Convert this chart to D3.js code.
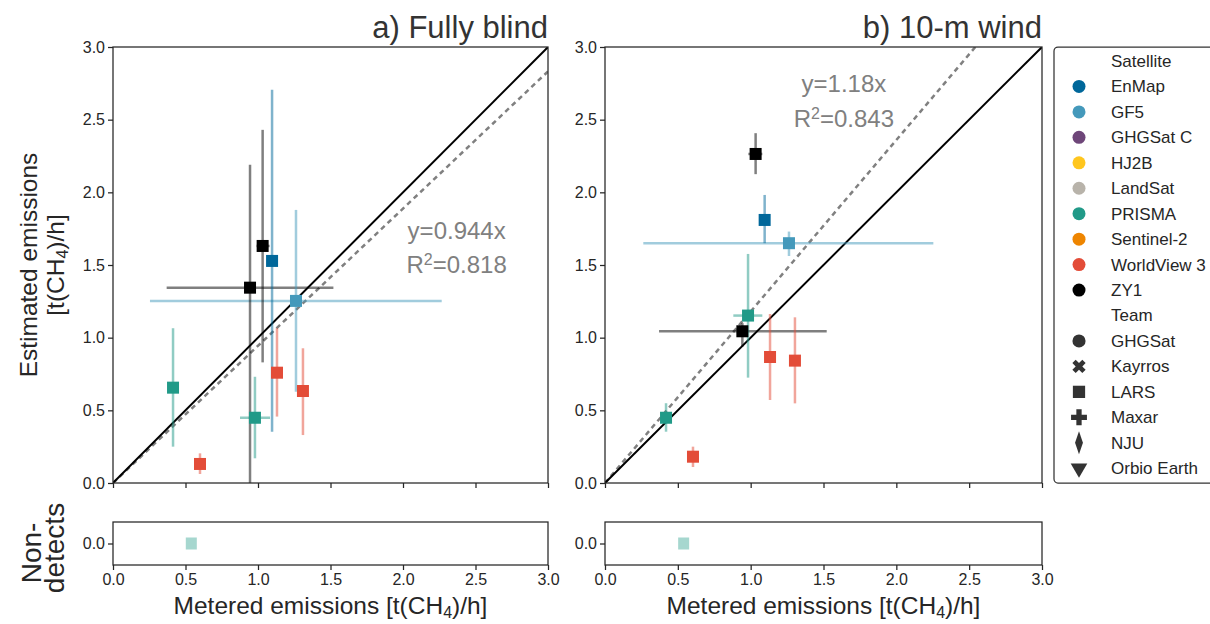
<!DOCTYPE html>
<html>
<head>
    <meta charset="utf-8">
    <script src="https://d3js.org/d3.v7.min.js"></script>
    <style>
        body { margin: 0; background: #fff; }
        text { font-family: "Liberation Sans", Arial, sans-serif; fill: #262626; }
    </style>
</head>
<body>
    <svg width="1210" height="624"></svg>
    <script>
        // Legend entries
        const satellites = ["EnMap", "GF5", "GHGSat C", "HJ2B", "LandSat", "PRISMA", "Sentinel-2", "WorldView 3", "ZY1"];
        const satColors = ["#00679a", "#4499bb", "#6e4679", "#ffc61e", "#b8b3aa", "#219a88", "#ee8500", "#e34c38", "#000000"];
        const teams = ["GHGSat", "Kayrros", "LARS", "Maxar", "NJU", "Orbio Earth"];

        // a) Fully blind
        const satA = ["ZY1", "ZY1", "EnMap", "GF5", "PRISMA", "PRISMA", "WorldView 3", "WorldView 3", "WorldView 3"];
        const meteredA = [0.945, 1.032, 1.097, 1.262, 0.414, 0.979, 0.600, 1.131, 1.310];
        const meteredLoA = [0.37, 0.99, 1.097, 0.255, 0.414, 0.876, 0.600, 1.131, 1.310];
        const meteredHiA = [1.52, 1.08, 1.097, 2.267, 0.414, 1.083, 0.600, 1.131, 1.310];
        const estimatedA = [1.344, 1.631, 1.528, 1.253, 0.656, 0.449, 0.131, 0.759, 0.633];
        const estLoA = [0.0, 0.83, 0.353, 0.628, 0.25, 0.17, 0.062, 0.457, 0.33];
        const estHiA = [2.19, 2.43, 2.705, 1.879, 1.065, 0.731, 0.204, 1.065, 0.927];

        // b) 10-m wind
        const satB = ["ZY1", "EnMap", "GF5", "PRISMA", "ZY1", "PRISMA", "WorldView 3", "WorldView 3", "WorldView 3"];
        const meteredB = [1.034, 1.096, 1.263, 0.982, 0.943, 0.419, 0.604, 1.133, 1.304];
        const meteredLoB = [0.984, 1.096, 0.263, 0.881, 0.371, 0.38, 0.604, 1.133, 1.304];
        const meteredHiB = [1.08, 1.096, 2.254, 1.08, 1.522, 0.46, 0.604, 1.133, 1.304];
        const estimatedB = [2.264, 1.81, 1.65, 1.152, 1.044, 0.449, 0.181, 0.867, 0.842];
        const estLoB = [2.125, 1.65, 1.562, 0.725, 0.938, 0.353, 0.11, 0.571, 0.548];
        const estHiB = [2.407, 1.982, 1.73, 1.576, 1.10, 0.549, 0.25, 1.163, 1.14];

        // non-detects (metered value, satellite)
        const nonDetectX = [0.54];
        const nonDetectSat = ["PRISMA"];

        const slopes = [0.944, 1.18];
        const r2 = ["0.818", "0.843"];
        const titles = ["a) Fully blind", "b) 10-m wind"];
        const ticks = [0, 0.5, 1.0, 1.5, 2.0, 2.5, 3.0];

        const color = d3.scaleOrdinal().domain(satellites).range(satColors);
        const svg = d3.select("svg");

        const panels = [
            { left: 113, right: 548, sat: satA, x: meteredA, xlo: meteredLoA, xhi: meteredHiA, y: estimatedA, ylo: estLoA, yhi: estHiA, ann: [2.37, 1.68] },
            { left: 605, right: 1042, sat: satB, x: meteredB, xlo: meteredLoB, xhi: meteredHiB, y: estimatedB, ylo: estLoB, yhi: estHiB, ann: [1.64, 2.69] }
        ];
        const plotTop = 47, plotBottom = 483, ndTop = 522, ndBottom = 565;

        panels.forEach((p, i) => {
            const x = d3.scaleLinear().domain([0, 3]).range([p.left, p.right]);
            const y = d3.scaleLinear().domain([0, 3]).range([plotBottom, plotTop]);
            const yNd = d3.scaleLinear().domain([-1, 1]).range([ndBottom, ndTop]);
            const g = svg.append("g");

            const clipId = "clip" + i;
            svg.append("clipPath").attr("id", clipId)
                .append("rect").attr("x", p.left).attr("y", plotTop)
                .attr("width", p.right - p.left).attr("height", plotBottom - plotTop);

            const plot = g.append("g").attr("clip-path", `url(#${clipId})`);

            // identity + regression
            plot.append("line")
                .attr("x1", x(0)).attr("y1", y(0)).attr("x2", x(3)).attr("y2", y(3 * slopes[i]))
                .attr("stroke", "#808080").attr("stroke-width", 2.5).attr("stroke-dasharray", "5,4");
            plot.append("line")
                .attr("x1", x(0)).attr("y1", y(0)).attr("x2", x(3)).attr("y2", y(3))
                .attr("stroke", "#000").attr("stroke-width", 2);

            const idx = d3.range(p.x.length);
            // error bars
            plot.selectAll("line.xerr").data(idx).enter().append("line")
                .attr("x1", d => x(p.xlo[d])).attr("x2", d => x(p.xhi[d]))
                .attr("y1", d => y(p.y[d])).attr("y2", d => y(p.y[d]))
                .attr("stroke", d => color(p.sat[d])).attr("stroke-opacity", 0.5).attr("stroke-width", 2.5);
            plot.selectAll("line.yerr").data(idx).enter().append("line")
                .attr("x1", d => x(p.x[d])).attr("x2", d => x(p.x[d]))
                .attr("y1", d => y(p.ylo[d])).attr("y2", d => y(p.yhi[d]))
                .attr("stroke", d => color(p.sat[d])).attr("stroke-opacity", 0.5).attr("stroke-width", 2.5);

            // markers (LARS = squares)
            const s = 12;
            plot.selectAll("rect.pt").data(idx).enter().append("rect")
                .attr("x", d => x(p.x[d]) - s / 2).attr("y", d => y(p.y[d]) - s / 2)
                .attr("width", s).attr("height", s)
                .attr("fill", d => color(p.sat[d]));

            // regression annotation
            g.append("text").attr("x", x(p.ann[0])).attr("y", y(p.ann[1]))
                .attr("text-anchor", "middle").attr("font-size", 24).style("fill", "#808080")
                .text(`y=${slopes[i]}x`);
            const rt = g.append("text").attr("x", x(p.ann[0])).attr("y", y(p.ann[1]) + 34.5)
                .attr("text-anchor", "middle").attr("font-size", 24).style("fill", "#808080");
            rt.append("tspan").text("R");
            rt.append("tspan").attr("baseline-shift", "super").attr("font-size", 16).text("2");
            rt.append("tspan").text("=" + r2[i]);

            // frame + axes
            g.append("rect").attr("x", p.left).attr("y", plotTop).attr("width", p.right - p.left).attr("height", plotBottom - plotTop)
                .attr("fill", "none").attr("stroke", "#262626").attr("stroke-width", 1.25);
            const yAxis = g.append("g").attr("transform", `translate(${p.left},0)`)
                .call(d3.axisLeft(y).tickValues(ticks).tickFormat(d3.format(".1f")).tickSize(5).tickPadding(3));
            const xAxis = g.append("g").attr("transform", `translate(0,${plotBottom})`)
                .call(d3.axisBottom(x).tickValues(ticks).tickFormat("").tickSize(5));
            [yAxis, xAxis].forEach(a => {
                a.select(".domain").remove();
                a.selectAll("line").attr("stroke", "#262626").attr("stroke-width", 1.25);
                a.selectAll("text").attr("font-size", 16).style("fill", "#262626");
            });

            // title
            g.append("text").attr("x", p.right).attr("y", 38).attr("text-anchor", "end")
                .attr("font-size", 31).style("fill", "#333").text(titles[i]);

            // non-detects panel
            const nd = svg.append("g");
            nd.selectAll("rect.nd").data(nonDetectX).enter().append("rect")
                .attr("x", d => x(d) - 5.5).attr("y", yNd(0) - 6).attr("width", 11).attr("height", 12)
                .attr("fill", (d, j) => color(nonDetectSat[j])).attr("fill-opacity", 0.4);
            nd.append("rect").attr("x", p.left).attr("y", ndTop).attr("width", p.right - p.left).attr("height", ndBottom - ndTop)
                .attr("fill", "none").attr("stroke", "#262626").attr("stroke-width", 1.25);
            const ndY = nd.append("g").attr("transform", `translate(${p.left},0)`)
                .call(d3.axisLeft(yNd).tickValues([0]).tickFormat(d3.format(".1f")).tickSize(5).tickPadding(3));
            const ndX = nd.append("g").attr("transform", `translate(0,${ndBottom})`)
                .call(d3.axisBottom(x).tickValues(ticks).tickFormat(d3.format(".1f")).tickSize(5).tickPadding(4));
            [ndY, ndX].forEach(a => {
                a.select(".domain").remove();
                a.selectAll("line").attr("stroke", "#262626").attr("stroke-width", 1.25);
                a.selectAll("text").attr("font-size", 16).style("fill", "#262626");
            });

            // x label
            const xl = svg.append("text").attr("x", (p.left + p.right) / 2).attr("y", 614)
                .attr("text-anchor", "middle").attr("font-size", 24.5);
            xl.append("tspan").text("Metered emissions [t(CH");
            xl.append("tspan").attr("dy", 4).attr("font-size", 16).text("4");
            xl.append("tspan").attr("dy", -4).text(")/h]");
        });

        // y labels
        const yl = svg.append("text").attr("transform", "translate(37,265) rotate(-90)")
            .attr("text-anchor", "middle").attr("font-size", 24.5);
        yl.append("tspan").attr("x", 0).attr("dy", 0).text("Estimated emissions");
        const yl2 = svg.append("text").attr("transform", "translate(64,265) rotate(-90)")
            .attr("text-anchor", "middle").attr("font-size", 24.5);
        yl2.append("tspan").text("[t(CH");
        yl2.append("tspan").attr("dy", 4).attr("font-size", 16).text("4");
        yl2.append("tspan").attr("dy", -4).text(")/h]");

        svg.append("text").attr("transform", "translate(41,553) rotate(-90)")
            .attr("text-anchor", "middle").attr("font-size", 28).text("Non-");
        svg.append("text").attr("transform", "translate(64,548) rotate(-90)")
            .attr("text-anchor", "middle").attr("font-size", 28).text("detects");

        // legend
        const lg = svg.append("g");
        lg.append("rect").attr("x", 1054).attr("y", 47).attr("width", 170).attr("height", 436).attr("rx", 4)
            .attr("fill", "#fff").attr("stroke", "#333").attr("stroke-width", 1.25);
        const rowY = i => 61 + i * 25.45;
        const mx = 1079, tx = 1111;
        lg.append("text").attr("x", tx).attr("y", rowY(0)).attr("dy", "0.35em").attr("font-size", 17).text("Satellite");
        satellites.forEach((s, i) => {
            lg.append("circle").attr("cx", mx).attr("cy", rowY(i + 1)).attr("r", 6.5).attr("fill", color(s));
            lg.append("text").attr("x", tx).attr("y", rowY(i + 1)).attr("dy", "0.35em").attr("font-size", 17).text(s);
        });
        lg.append("text").attr("x", tx).attr("y", rowY(10)).attr("dy", "0.35em").attr("font-size", 17).text("Team");
        const teamShapes = [
            { t: d3.symbolCircle, size: 135, rot: 0, sx: 1 },
            { t: d3.symbolCross, size: 110, rot: 45, sx: 1 },
            { t: d3.symbolSquare, size: 150, rot: 0, sx: 1 },
            { t: d3.symbolCross, size: 140, rot: 0, sx: 1 },
            { t: d3.symbolDiamond, size: 150, rot: 0, sx: 0.6 },
            { t: d3.symbolTriangle, size: 120, rot: 180, sx: 1 }
        ];
        teams.forEach((t, i) => {
            const sh = teamShapes[i];
            lg.append("path").attr("d", d3.symbol(sh.t, sh.size)())
                .attr("transform", `translate(${mx},${rowY(i + 11)}) rotate(${sh.rot}) scale(${sh.sx},1)`)
                .attr("fill", "#333");
            lg.append("text").attr("x", tx).attr("y", rowY(i + 11)).attr("dy", "0.35em").attr("font-size", 17).text(t);
        });
    </script>
</body>
</html>
